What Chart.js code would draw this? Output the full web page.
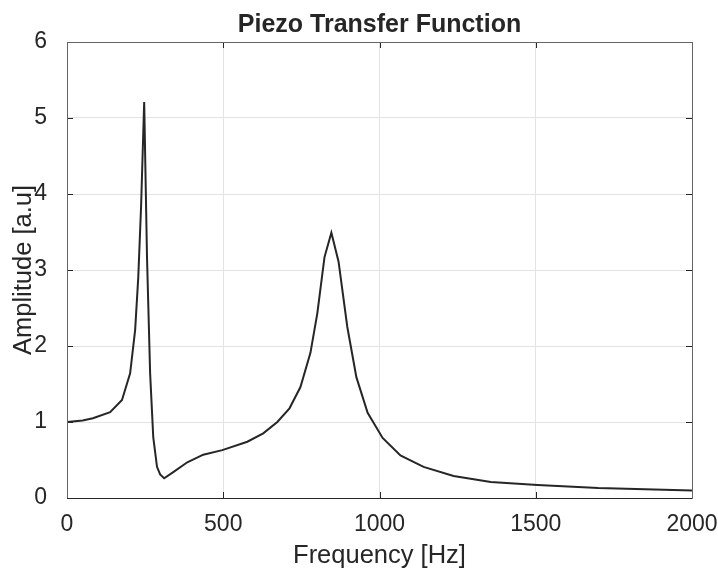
<!DOCTYPE html>
<html>
<head>
<meta charset="utf-8">
<script src="https://cdn.jsdelivr.net/npm/chart.js@4"></script>
<style>
  html, body { margin: 0; padding: 0; background: #fff; }
  #wrap { width: 718px; height: 578px; }
</style>
</head>
<body>
<div id="wrap"><canvas id="chart" width="718" height="578"></canvas></div>
<script>
// 频率 (Hz) 和幅值 (a.u)
const freq = [0, 50, 83, 138, 176, 202, 218, 228, 237, 247, 256, 266, 276, 288, 298, 311, 340, 385, 436, 497, 577, 628, 673, 712, 747, 779, 801, 824, 846, 869, 897, 926, 962, 1010, 1067, 1141, 1237, 1356, 1506, 1700, 2000];
const amp = [1.0, 1.02, 1.05, 1.13, 1.29, 1.64, 2.21, 2.9, 3.83, 5.21, 3.17, 1.64, 0.80, 0.41, 0.31, 0.26, 0.34, 0.47, 0.57, 0.63, 0.74, 0.85, 1.0, 1.18, 1.46, 1.91, 2.43, 3.17, 3.49, 3.11, 2.25, 1.59, 1.12, 0.79, 0.56, 0.41, 0.29, 0.21, 0.17, 0.13, 0.10];

const xTicks = [0, 500, 1000, 1500, 2000];
const yTicks = [0, 1, 2, 3, 4, 5, 6];

const titleText = "Piezo Transfer Function";
const fontFamily = "'Liberation Sans', Arial, Helvetica, sans-serif";

// 画边框、向内的刻度线和标题
const boxPlugin = {
  id: "box",
  afterDraw(chart) {
    const ctx = chart.ctx;
    const a = chart.chartArea;
    const xs = chart.scales.x;
    const ys = chart.scales.y;
    ctx.save();
    ctx.lineWidth = 1;
    ctx.strokeStyle = "#262626";
    ctx.beginPath();
    xTicks.forEach(v => {
      const px = Math.round(xs.getPixelForValue(v)) + 0.5;
      ctx.moveTo(px, a.bottom); ctx.lineTo(px, a.bottom - 6);
      ctx.moveTo(px, a.top); ctx.lineTo(px, a.top + 6);
    });
    yTicks.forEach(v => {
      const py = Math.round(ys.getPixelForValue(v)) + 0.5;
      ctx.moveTo(a.left, py); ctx.lineTo(a.left + 6, py);
      ctx.moveTo(a.right, py); ctx.lineTo(a.right - 6, py);
    });
    ctx.stroke();
    ctx.strokeStyle = "#666";
    ctx.strokeRect(Math.round(a.left) + 0.5, Math.round(a.top) + 0.5,
      Math.round(a.right - a.left), Math.round(a.bottom - a.top));
    ctx.strokeStyle = "#262626";
    ctx.beginPath();
    ctx.moveTo(a.left, Math.round(a.bottom) + 0.5);
    ctx.lineTo(a.right, Math.round(a.bottom) + 0.5);
    ctx.stroke();

    ctx.fillStyle = "#262626";
    ctx.font = "bold 25px " + fontFamily;
    ctx.textAlign = "center";
    ctx.textBaseline = "alphabetic";
    ctx.fillText(titleText, (a.left + a.right) / 2, 32);
    ctx.restore();
  },
};

new Chart(document.getElementById("chart"), {
  type: "scatter",
  data: {
    datasets: [
      {
        label: "Amplitude",
        data: freq.map((f, i) => ({ x: f, y: amp[i] })),
        showLine: true,
        borderColor: "#262626",
        borderWidth: 2,
        pointRadius: 0,
        tension: 0,
        fill: false,
      },
    ],
  },
  options: {
    responsive: false,
    animation: false,
    layout: {
      padding: { top: 42, right: 26, left: 0, bottom: 0 },
    },
    plugins: {
      legend: { display: false },
      tooltip: { enabled: false },
      title: { display: false },
    },
    scales: {
      x: {
        type: "linear",
        min: 0,
        max: 2000,
        afterBuildTicks: s => { s.ticks = xTicks.map(v => ({ value: v })); },
        afterFit: s => { s.height = 80; s.paddingLeft = 0; s.paddingRight = 0; },
        grid: { color: "#e3e3e3", drawTicks: false },
        border: { display: false },
        ticks: {
          padding: 13,
          color: "#262626",
          font: { family: fontFamily, size: 23 },
          maxRotation: 0,
          callback: v => String(v),
        },
        title: {
          display: true,
          text: "Frequency [Hz]",
          color: "#262626",
          font: { family: fontFamily, size: 25.5 },
          padding: { top: 0, bottom: 7 },
        },
      },
      y: {
        type: "linear",
        min: 0,
        max: 6,
        afterBuildTicks: s => { s.ticks = yTicks.map(v => ({ value: v })); },
        afterFit: s => { s.width = 67; s.paddingTop = 0; s.paddingBottom = 0; },
        grid: { color: "#e3e3e3", drawTicks: false },
        border: { display: false },
        ticks: {
          padding: 20,
          color: "#262626",
          font: { family: fontFamily, size: 23 },
          callback: v => String(v),
        },
        title: {
          display: true,
          text: "Amplitude [a.u]",
          color: "#262626",
          font: { family: fontFamily, size: 25.5 },
          padding: { top: 9, bottom: 0 },
        },
      },
    },
  },
  plugins: [boxPlugin],
});
</script>
</body>
</html>
